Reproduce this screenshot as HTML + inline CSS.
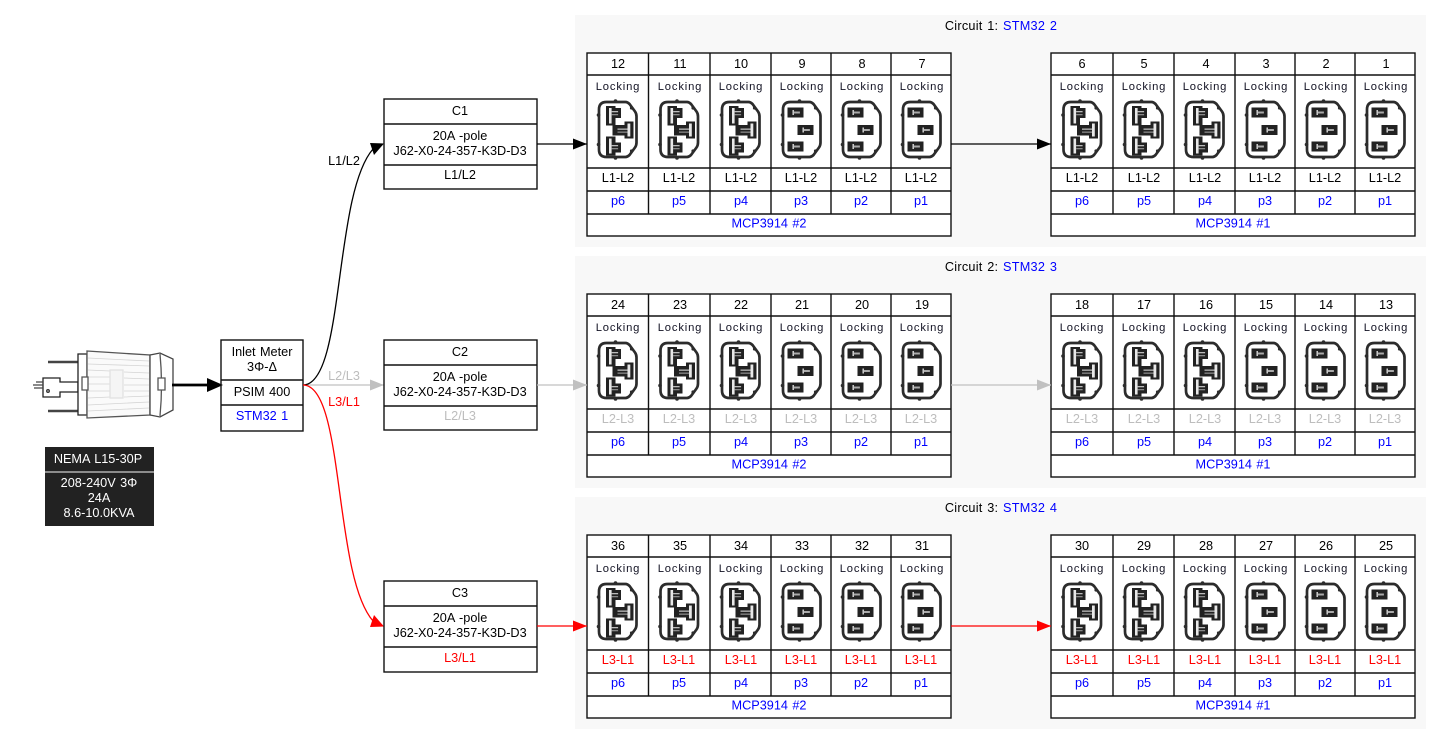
<!DOCTYPE html>
<html><head><meta charset="utf-8"><style>
html,body{margin:0;padding:0;background:#fff}
svg{display:block}
text{font-family:"Liberation Sans",sans-serif;font-size:12.7px;word-spacing:.9px;text-anchor:middle;fill:#000}
.t{letter-spacing:.25px}
.k{font-size:11.2px;letter-spacing:.85px;fill:#112}
.b text,.b{fill:#00f}
.g text{fill:#bdbdbd}
.r text{fill:#f00}
</style></head><body>
<svg width="1441" height="745" viewBox="0 0 1441 745" xmlns="http://www.w3.org/2000/svg">
<defs>
<g id="tl" fill="none" stroke="#111" stroke-width="1.4">
<rect x="587" y="53" width="364" height="183"/>
<path d="M587 75H951M587 168H951M587 191H951M587 214H951M648.500 53V214M710 53V214M771 53V214M831 53V214M891 53V214"/>
</g>
<g id="tr" fill="none" stroke="#111" stroke-width="1.4">
<rect x="1051" y="53" width="364" height="183"/>
<path d="M1051 75H1415M1051 168H1415M1051 191H1415M1051 214H1415M1113 53V214M1174 53V214M1235 53V214M1295 53V214M1355 53V214"/>
</g>
<g id="o" fill="none" stroke="#2c2c2c" stroke-width="2.700">
<path d="M-11-27.500H8Q10-27.500 12-25.500L17.500-18Q19-16 19-13V13Q19 16 17.500 18L12 25.500Q10 27.500 8 27.500H-11Q-18.500 27.500-18.500 20V-20Q-18.500-27.500-11-27.500Z"/>
<g fill="#2c2c2c" stroke="none"><circle cx="-2" cy="-28.500" r="1.800"/><circle cx="-2" cy="28.500" r="1.800"/><circle cx="-19" cy="-14.500" r="1.800"/><circle cx="-19" cy="15" r="1.800"/><circle cx="14" cy="-21.500" r="1.600"/><circle cx="14" cy="21.500" r="1.600"/></g>
</g>
<g id="cs"><rect x="-8" y="-5" width="16" height="10" fill="#222"/><rect x="-3" y="-2.500" width="1.400" height="5" fill="#ddd"/><rect x="-1.600" y="-1" width="6" height="2" fill="#aaa"/></g>
<g id="clt"><rect x="-11.500" y="-23.500" width="9.500" height="19.500" fill="#222"/><rect x="-8.500" y="-21.500" width="2.600" height="15.500" fill="#e8e8e8"/><rect x="-2.500" y="-21.500" width="6" height="10" fill="#222"/><rect x="-5.900" y="-18.500" width="6.500" height="1.300" fill="#bbb"/><rect x="-5.900" y="-15.500" width="6.500" height="1.300" fill="#888"/></g>
<g id="clb"><rect x="-11.500" y="7" width="9.500" height="19" fill="#222"/><rect x="-8.500" y="9" width="2.600" height="15" fill="#e8e8e8"/><rect x="-2.500" y="13" width="6" height="10" fill="#222"/><rect x="-5.900" y="15.500" width="6.500" height="1.300" fill="#bbb"/><rect x="-5.900" y="18.500" width="6.500" height="1.300" fill="#888"/></g>
<g id="cm"><rect x="-5" y="-4.500" width="12.500" height="10.500" fill="#222"/><rect x="7" y="-8" width="9" height="17" fill="#222"/><rect x="10" y="-6" width="2.800" height="13" fill="#e8e8e8"/><rect x="0" y="-1" width="10" height="1.300" fill="#bbb"/><rect x="0" y="2" width="10" height="1.300" fill="#888"/></g>
<g id="L"><use href="#o"/><use href="#clt"/><use href="#cm"/><use href="#clb"/></g>
<g id="S"><use href="#o"/><use href="#cs" x="-6" y="-17"/><use href="#cs" x="4" y="0.500"/><use href="#cs" x="-6" y="17"/></g>
<g id="ic">
<use href="#L" x="617.500" y="129.500"/><use href="#L" x="679" y="129.500"/><use href="#L" x="740.500" y="129.500"/><use href="#S" x="801.500" y="129.500"/><use href="#S" x="861.500" y="129.500"/><use href="#S" x="921.500" y="129.500"/>
<use href="#L" x="1082" y="129.500"/><use href="#L" x="1143.500" y="129.500"/><use href="#L" x="1204.500" y="129.500"/><use href="#S" x="1265.500" y="129.500"/><use href="#S" x="1325.500" y="129.500"/><use href="#S" x="1385.500" y="129.500"/>
</g>
<g id="lk">
<text class="k" x="618" y="90">Locking</text><text class="k" x="680" y="90">Locking</text><text class="k" x="741" y="90">Locking</text><text class="k" x="802" y="90">Locking</text><text class="k" x="862" y="90">Locking</text><text class="k" x="922" y="90">Locking</text>
<text class="k" x="1082" y="90">Locking</text><text class="k" x="1144" y="90">Locking</text><text class="k" x="1205" y="90">Locking</text><text class="k" x="1266" y="90">Locking</text><text class="k" x="1326" y="90">Locking</text><text class="k" x="1386" y="90">Locking</text>
</g>
<g id="ps" class="b">
<text x="618" y="205">p6</text><text x="679" y="205">p5</text><text x="741" y="205">p4</text><text x="801" y="205">p3</text><text x="861" y="205">p2</text><text x="921" y="205">p1</text>
<text x="769" y="227.500">MCP3914 #2</text>
<text x="1082" y="205">p6</text><text x="1144" y="205">p5</text><text x="1205" y="205">p4</text><text x="1265" y="205">p3</text><text x="1325" y="205">p2</text><text x="1385" y="205">p1</text>
<text x="1233" y="227.500">MCP3914 #1</text>
</g>
<g id="pn">
<rect x="575" y="15" width="851" height="232" fill="#f8f8f8"/>
<rect x="587" y="53" width="364" height="183" fill="#fff"/><rect x="1051" y="53" width="364" height="183" fill="#fff"/>
<use href="#tl"/><use href="#tr"/><use href="#ic"/><use href="#lk"/><use href="#ps"/>
</g>
<marker id="mk" markerUnits="userSpaceOnUse" markerWidth="15" markerHeight="12" refX="14" refY="5.500" orient="auto"><path d="M0 0L14 5.500L0 11Z"/></marker>
<marker id="mg" markerUnits="userSpaceOnUse" markerWidth="15" markerHeight="12" refX="14" refY="5.500" orient="auto"><path d="M0 0L14 5.500L0 11Z" fill="#c0c0c0"/></marker>
<marker id="mr" markerUnits="userSpaceOnUse" markerWidth="15" markerHeight="12" refX="14" refY="5.500" orient="auto"><path d="M0 0L14 5.500L0 11Z" fill="#f00"/></marker>
</defs>

<use href="#pn"/>
<use href="#pn" y="241"/>
<use href="#pn" y="482"/>

<text class="t" x="1001" y="30">Circuit 1: <tspan fill="#00f">STM32 2</tspan></text>
<text class="t" x="1001" y="271">Circuit 2: <tspan fill="#00f">STM32 3</tspan></text>
<text class="t" x="1001" y="512">Circuit 3: <tspan fill="#00f">STM32 4</tspan></text>

<!-- circuit 1 -->
<g>
<text x="618" y="68">12</text><text x="680" y="68">11</text><text x="741" y="68">10</text><text x="802" y="68">9</text><text x="862" y="68">8</text><text x="922" y="68">7</text>
<text x="1082" y="68">6</text><text x="1144" y="68">5</text><text x="1206" y="68">4</text><text x="1266" y="68">3</text><text x="1326" y="68">2</text><text x="1386" y="68">1</text>
<text x="618" y="182">L1-L2</text><text x="679" y="182">L1-L2</text><text x="741" y="182">L1-L2</text><text x="801" y="182">L1-L2</text><text x="861" y="182">L1-L2</text><text x="921" y="182">L1-L2</text>
<text x="1082" y="182">L1-L2</text><text x="1144" y="182">L1-L2</text><text x="1205" y="182">L1-L2</text><text x="1265" y="182">L1-L2</text><text x="1325" y="182">L1-L2</text><text x="1385" y="182">L1-L2</text>
</g>
<!-- circuit 2 -->
<g>
<text x="618" y="309">24</text><text x="680" y="309">23</text><text x="741" y="309">22</text><text x="802" y="309">21</text><text x="862" y="309">20</text><text x="922" y="309">19</text>
<text x="1082" y="309">18</text><text x="1144" y="309">17</text><text x="1206" y="309">16</text><text x="1266" y="309">15</text><text x="1326" y="309">14</text><text x="1386" y="309">13</text>
</g>
<g class="g">
<text x="618" y="423">L2-L3</text><text x="679" y="423">L2-L3</text><text x="741" y="423">L2-L3</text><text x="801" y="423">L2-L3</text><text x="861" y="423">L2-L3</text><text x="921" y="423">L2-L3</text>
<text x="1082" y="423">L2-L3</text><text x="1144" y="423">L2-L3</text><text x="1205" y="423">L2-L3</text><text x="1265" y="423">L2-L3</text><text x="1325" y="423">L2-L3</text><text x="1385" y="423">L2-L3</text>
</g>
<!-- circuit 3 -->
<g>
<text x="618" y="550">36</text><text x="680" y="550">35</text><text x="741" y="550">34</text><text x="802" y="550">33</text><text x="862" y="550">32</text><text x="922" y="550">31</text>
<text x="1082" y="550">30</text><text x="1144" y="550">29</text><text x="1206" y="550">28</text><text x="1266" y="550">27</text><text x="1326" y="550">26</text><text x="1386" y="550">25</text>
</g>
<g class="r">
<text x="618" y="664">L3-L1</text><text x="679" y="664">L3-L1</text><text x="741" y="664">L3-L1</text><text x="801" y="664">L3-L1</text><text x="861" y="664">L3-L1</text><text x="921" y="664">L3-L1</text>
<text x="1082" y="664">L3-L1</text><text x="1144" y="664">L3-L1</text><text x="1205" y="664">L3-L1</text><text x="1265" y="664">L3-L1</text><text x="1325" y="664">L3-L1</text><text x="1385" y="664">L3-L1</text>
</g>

<!-- plug -->
<g fill="none" stroke="#333" stroke-width="1.300">
<path d="M48 362H78M48 411H78" stroke="#444" stroke-width="2.400"/>
<path d="M43 378H60V382H78V392H60V397H43Z" fill="#fff" stroke="#222"/>
<path d="M33 385H43M34 388H43M36 382H43" stroke="#444"/>
<circle cx="48" cy="391" r="1.300"/>
<path d="M78 354H87V415H78Z" fill="#fff" stroke="#222"/>
<path d="M87 351L150 355V415L87 418Z" fill="#fafafa" stroke="#555"/>
<g stroke="#d4d4d4" stroke-width=".8"><path d="M88 358L149 361M88 364L149 366M88 370L110 371M124 372L149 373M88 377L110 377M124 378L149 379M88 384H110M124 385H149M88 391H110M124 391H149M88 398L110 397M124 397L149 396M88 405L149 402M88 411L149 408"/></g>
<rect x="110" y="370" width="13" height="28" fill="#f5f5f5" stroke="#e2e2e2"/>
<path d="M150 355L160 353L173 359V410L160 417L150 415Z" fill="#fff" stroke="#444"/>
<path d="M160 354Q163 385 160 416" stroke="#555"/>
<path d="M82 377H88V390H82ZM158 378H165V390H158Z" fill="#fff" stroke="#555"/>
</g>
<path d="M172 385H208" stroke="#000" stroke-width="2.800" fill="none"/>
<path d="M207 378L223 385L207 392Z" fill="#000"/>

<!-- nema -->
<rect x="45" y="447" width="109" height="79" fill="#222"/>
<path d="M45 472H154" stroke="#ccc" stroke-width="1.300"/>
<text x="98" y="463" style="fill:#fff">NEMA L15-30P</text>
<text x="99" y="487" style="fill:#fff">208-240V 3Φ</text>
<text x="99" y="502" style="fill:#fff">24A</text>
<text x="99" y="517" style="fill:#fff">8.6-10.0KVA</text>

<!-- meter -->
<rect x="221" y="340" width="82" height="91" fill="none" stroke="#111" stroke-width="1.400"/>
<path d="M221 380H303M221 405H303" stroke="#111" stroke-width="1.400"/>
<text x="262" y="356">Inlet Meter</text><text x="262" y="371">3Φ-Δ</text><text x="262" y="396">PSIM 400</text><text x="262" y="420" style="fill:#00f">STM32 1</text>

<!-- edges -->
<path d="M303 385H384" fill="none" stroke="#c0c0c0" stroke-width="1.300" marker-end="url(#mg)"/>
<path d="M303 385C345 385 333 195 373 149" fill="none" stroke="#000" stroke-width="1.300"/>
<path d="M384 143.500L370 143L374 155Z" fill="#000"/>
<path d="M303 385C345 385 333 575 373 621" fill="none" stroke="#f00" stroke-width="1.300"/>
<path d="M384 626.500L370 627L374 615Z" fill="#f00"/>
<text x="344" y="165">L1/L2</text>
<text x="344" y="380" style="fill:#bdbdbd">L2/L3</text>
<text x="344" y="406" style="fill:#f00">L3/L1</text>

<!-- C tables -->
<rect x="384" y="99" width="153" height="90" fill="#fff" stroke="#111" stroke-width="1.400"/>
<path d="M384 124H537M384 165H537" stroke="#111" stroke-width="1.400"/>
<text x="460" y="115">C1</text><text x="460" y="140">20A -pole</text><text x="460" y="155">J62-X0-24-357-K3D-D3</text><text x="460" y="179">L1/L2</text>

<rect x="384" y="340" width="153" height="90" fill="#fff" stroke="#111" stroke-width="1.400"/>
<path d="M384 365H537M384 406H537" stroke="#111" stroke-width="1.400"/>
<text x="460" y="356">C2</text><text x="460" y="381">20A -pole</text><text x="460" y="396">J62-X0-24-357-K3D-D3</text><text x="460" y="420" style="fill:#bdbdbd">L2/L3</text>

<rect x="384" y="581" width="153" height="91" fill="#fff" stroke="#111" stroke-width="1.400"/>
<path d="M384 606H537M384 647H537" stroke="#111" stroke-width="1.400"/>
<text x="460" y="597">C3</text><text x="460" y="622">20A -pole</text><text x="460" y="637">J62-X0-24-357-K3D-D3</text><text x="460" y="662" style="fill:#f00">L3/L1</text>

<path d="M537 144H587" stroke="#000" stroke-width="1.300" marker-end="url(#mk)"/>
<path d="M951 144H1051" stroke="#000" stroke-width="1.300" marker-end="url(#mk)"/>
<path d="M537 385H587" stroke="#c0c0c0" stroke-width="1.300" marker-end="url(#mg)"/>
<path d="M951 385H1051" stroke="#c0c0c0" stroke-width="1.300" marker-end="url(#mg)"/>
<path d="M537 626H587" stroke="#f00" stroke-width="1.300" marker-end="url(#mr)"/>
<path d="M951 626H1051" stroke="#f00" stroke-width="1.300" marker-end="url(#mr)"/>
</svg>
</body></html>
